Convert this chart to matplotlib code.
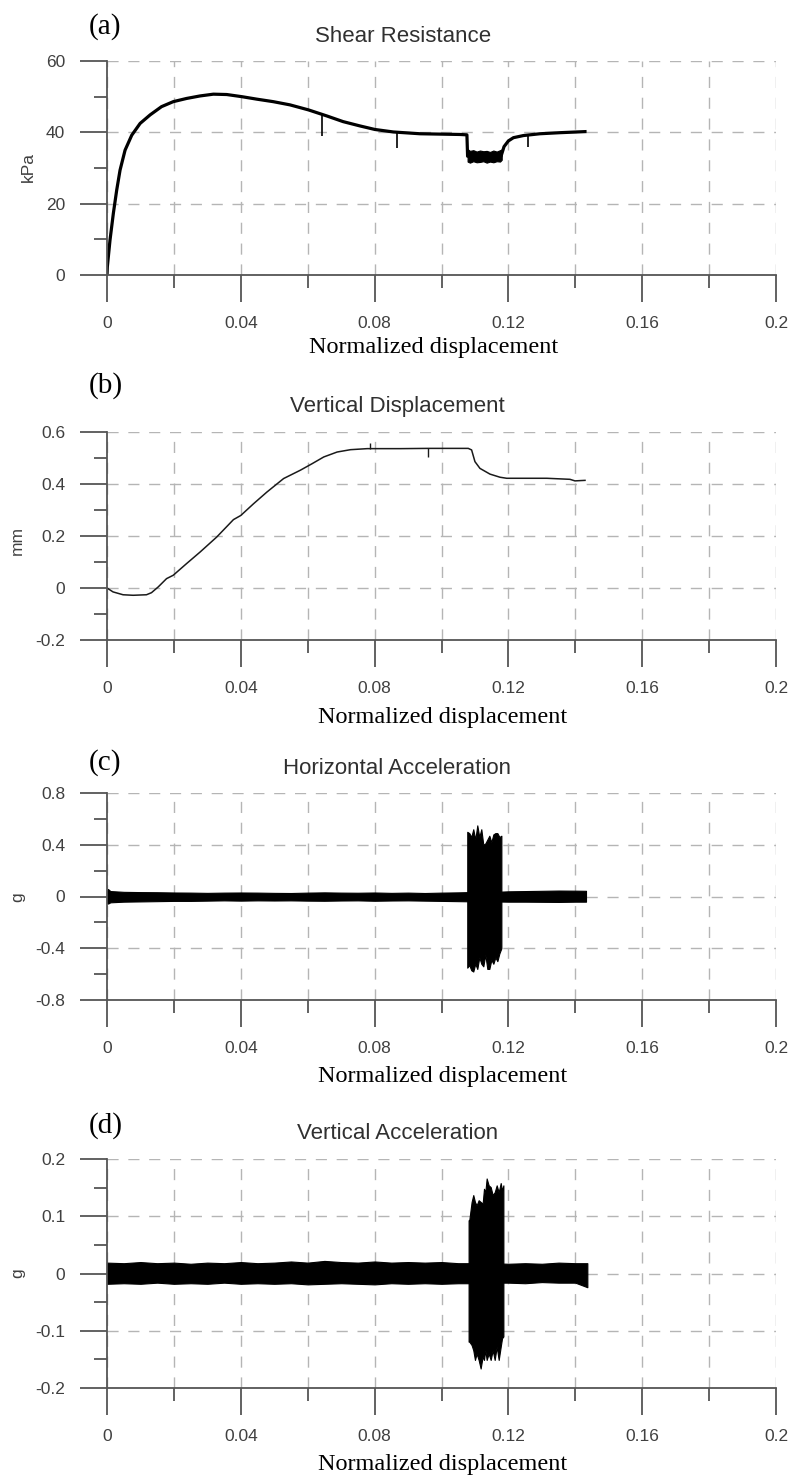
import matplotlib
matplotlib.use('Agg')
import matplotlib.pyplot as plt

plt.rcParams['axes.unicode_minus'] = False

# ---------------- data ----------------
x_major = [0, 0.04, 0.08, 0.12, 0.16, 0.2]
x_major_labels = ['0', '0.04', '0.08', '0.12', '0.16', '0.2']
x_minor = [0.02, 0.06, 0.10, 0.14, 0.18]

# (a) Shear resistance (kPa)
a_x = [0.0, 0.0001, 0.0009, 0.0019, 0.0029, 0.0039, 0.0054, 0.0074, 0.0099, 0.0129,
       0.0163, 0.0198, 0.0238, 0.0278, 0.0318, 0.0358, 0.0403, 0.0448, 0.0497, 0.0547,
       0.0602, 0.0657, 0.0706, 0.0756, 0.0801, 0.0856, 0.0936, 0.0996, 0.1055, 0.1076,
       0.1078, 0.1178, 0.1187, 0.1200, 0.1215, 0.1245, 0.1294, 0.1354, 0.1429]
a_y = [0.0, 2.3, 9.8, 17.3, 23.8, 29.4, 35.0, 39.2, 42.5, 44.9,
       47.2, 48.6, 49.5, 50.2, 50.7, 50.6, 50.0, 49.3, 48.6, 47.7,
       46.3, 44.6, 43.0, 41.8, 40.8, 40.1, 39.6, 39.5, 39.4, 39.3,
       33.3, 33.3, 36.0, 37.6, 38.5, 39.1, 39.6, 39.9, 40.2]
a_band_x = [0.1078, 0.1085, 0.1095, 0.1105, 0.1115, 0.1125, 0.1135, 0.1145, 0.1155, 0.1165, 0.1175, 0.1180]
a_band_hi = [35.3, 34.8, 35.0, 34.6, 34.9, 34.7, 34.8, 34.5, 34.9, 34.6, 35.0, 35.2]
a_band_lo = [31.8, 31.5, 31.9, 31.6, 31.7, 31.9, 31.5, 31.8, 31.6, 31.9, 31.8, 32.3]
a_spike_x = [0.0643, 0.0866, 0.1259]
a_spike_top = [45.0, 40.0, 39.2]
a_spike_bot = [39.0, 35.6, 36.0]

# (b) Vertical displacement (mm)
b_x = [0, 0.0018, 0.0048, 0.0078, 0.0118, 0.0133, 0.0153, 0.0178, 0.0198, 0.0238,
       0.0278, 0.0328, 0.0378, 0.040, 0.0438, 0.0478, 0.0528, 0.0578, 0.0613, 0.0648,
       0.0688, 0.0728, 0.0778, 0.0878, 0.0961, 0.108, 0.109, 0.110, 0.1115, 0.1145,
       0.1175, 0.1195, 0.1315, 0.1384, 0.1399, 0.1429]
b_y = [0, -0.015, -0.026, -0.028, -0.026, -0.018, 0.004, 0.036, 0.049, 0.094,
       0.138, 0.196, 0.263, 0.279, 0.324, 0.369, 0.421, 0.453, 0.478, 0.504,
       0.523, 0.532, 0.536, 0.536, 0.537, 0.537, 0.531, 0.486, 0.460, 0.438,
       0.426, 0.422, 0.422, 0.418, 0.412, 0.414]
b_spike_x = [0.0786, 0.0961]
b_spike_lo = [0.536, 0.503]
b_spike_hi = [0.556, 0.537]

# (c) Horizontal acceleration (g): envelope of the recorded signal
c_bg_x = [0, 0.0003, 0.001, 0.005, 0.01, 0.015, 0.02, 0.025, 0.03, 0.035, 0.04, 0.045,
          0.05, 0.055, 0.06, 0.065, 0.07, 0.075, 0.08, 0.085, 0.09, 0.095, 0.1, 0.105,
          0.11, 0.115, 0.12, 0.125, 0.13, 0.135, 0.14, 0.1432]
c_bg_hi = [0.045, 0.058, 0.042, 0.036, 0.034, 0.033, 0.031, 0.030, 0.028, 0.030, 0.031, 0.030,
           0.028, 0.027, 0.030, 0.032, 0.030, 0.029, 0.031, 0.028, 0.030, 0.027, 0.030, 0.032,
           0.035, 0.035, 0.040, 0.042, 0.044, 0.046, 0.045, 0.044]
c_bg_lo = [-0.050, -0.055, -0.045, -0.040, -0.038, -0.036, -0.034, -0.034, -0.032, -0.030, -0.032, -0.030,
           -0.031, -0.030, -0.032, -0.033, -0.031, -0.030, -0.033, -0.031, -0.030, -0.032, -0.034, -0.036,
           -0.038, -0.038, -0.040, -0.040, -0.041, -0.042, -0.040, -0.040]
c_burst_x = [0.1077, 0.1083, 0.1089, 0.1095, 0.1101, 0.1107, 0.1113, 0.1119, 0.1125, 0.1131,
             0.1137, 0.1143, 0.1149, 0.1155, 0.1161, 0.1167, 0.1173, 0.1179]
c_burst_hi = [0.50, 0.49, 0.46, 0.52, 0.44, 0.55, 0.46, 0.52, 0.40, 0.41,
              0.44, 0.47, 0.42, 0.48, 0.49, 0.49, 0.46, 0.47]
c_burst_lo = [-0.55, -0.53, -0.57, -0.58, -0.52, -0.56, -0.47, -0.52, -0.54, -0.45,
              -0.56, -0.56, -0.49, -0.52, -0.47, -0.50, -0.44, -0.40]

# (d) Vertical acceleration (g)
d_bg_x = [0, 0.005, 0.01, 0.015, 0.02, 0.025, 0.03, 0.035, 0.04, 0.045,
          0.05, 0.055, 0.06, 0.065, 0.07, 0.075, 0.08, 0.085, 0.09, 0.095,
          0.1, 0.105, 0.11, 0.115, 0.12, 0.125, 0.13, 0.135, 0.14, 0.1436]
d_bg_hi = [0.019, 0.018, 0.020, 0.018, 0.019, 0.017, 0.019, 0.018, 0.020, 0.018,
           0.019, 0.021, 0.019, 0.022, 0.020, 0.019, 0.021, 0.019, 0.020, 0.019,
           0.020, 0.018, 0.018, 0.018, 0.017, 0.018, 0.017, 0.019, 0.018, 0.018]
d_bg_lo = [-0.018, -0.017, -0.018, -0.016, -0.018, -0.017, -0.018, -0.016, -0.018, -0.017,
           -0.018, -0.017, -0.019, -0.018, -0.017, -0.018, -0.019, -0.017, -0.018, -0.017,
           -0.018, -0.017, -0.017, -0.016, -0.016, -0.017, -0.015, -0.016, -0.016, -0.024]
d_burst_x = [0.1081, 0.1083, 0.1090, 0.1095, 0.1100, 0.1105, 0.1111, 0.1117, 0.1123, 0.1127,
             0.1131, 0.1135, 0.1141, 0.1147, 0.1153, 0.1159, 0.1165, 0.1171, 0.1177, 0.1181, 0.1185]
d_burst_hi = [0.093, 0.093, 0.125, 0.137, 0.125, 0.119, 0.128, 0.125, 0.122, 0.148,
              0.142, 0.166, 0.154, 0.151, 0.137, 0.142, 0.154, 0.142, 0.158, 0.145, 0.154]
d_burst_lo = [-0.119, -0.119, -0.125, -0.134, -0.151, -0.140, -0.151, -0.166, -0.145, -0.151,
              -0.134, -0.151, -0.140, -0.151, -0.134, -0.151, -0.128, -0.151, -0.128, -0.113, -0.110]

titles = ['Shear Resistance', 'Vertical Displacement', 'Horizontal Acceleration', 'Vertical Acceleration']
panel_tags = ['(a)', '(b)', '(c)', '(d)']
ylabels = ['kPa', 'mm', 'g', 'g']
ylims = [(0, 60), (-0.2, 0.6), (-0.8, 0.8), (-0.2, 0.2)]
yticks = [[0, 20, 40, 60], [-0.2, 0, 0.2, 0.4, 0.6], [-0.8, -0.4, 0, 0.4, 0.8], [-0.2, -0.1, 0, 0.1, 0.2]]
yticklabels = [['0', '20', '40', '60'], ['-0.2', '0', '0.2', '0.4', '0.6'],
               ['-0.8', '-0.4', '0', '0.4', '0.8'], ['-0.2', '-0.1', '0', '0.1', '0.2']]
yminor = [[10, 30, 50], [-0.1, 0.1, 0.3, 0.5], [-0.6, -0.2, 0.2, 0.6], [-0.15, -0.05, 0.05, 0.15]]
xlabel = 'Normalized displacement'

# ---------------- layout (pixels) ----------------
W, H = 791, 1477
fig = plt.figure(figsize=(W / 100, H / 100), dpi=100)

def fxp(px):
    return px / W

def fyp(py):
    return 1 - py / H

ax_left, ax_right = 107, 776
ax_tb = [(61, 275), (432, 640), (793, 1000), (1159, 1388)]
title_pos = [(403, 41.7), (397, 411.7), (397, 774), (398, 1139.3)]
tag_pos = [(89, 33.2), (89, 393), (89, 770), (89, 1133)]
xlabel_pos = [(434, 353), (443, 723), (443, 1081.7), (443, 1470)]
ylabel_pos = [(28, 167), (17.5, 541), (18, 897), (18, 1273)]

SPINE = '#555555'
TXT = '#404040'
GRID = '#b5b5b5'
SANS = ['Liberation Sans', 'DejaVu Sans']
SERIF = ['Liberation Serif', 'DejaVu Serif']

axes = []
for i in range(4):
    top, bot = ax_tb[i]
    ax = fig.add_axes([fxp(ax_left), fyp(bot), fxp(ax_right) - fxp(ax_left), (bot - top) / H])
    axes.append(ax)
    ax.set_xlim(0, 0.2)
    ax.set_ylim(*ylims[i])
    for s in ['top', 'right']:
        ax.spines[s].set_visible(False)
    for s in ['left', 'bottom']:
        ax.spines[s].set_color(SPINE)
        ax.spines[s].set_linewidth(1.3)
    ax.set_xticks(x_major)
    ax.set_xticklabels(x_major_labels)
    ax.set_xticks(x_minor, minor=True)
    ax.set_yticks(yticks[i])
    ax.set_yticklabels(yticklabels[i])
    ax.set_yticks(yminor[i], minor=True)
    ax.tick_params(which='major', direction='out', length=19.5, width=1.3, color=SPINE,
                   labelsize=12.5, labelcolor=TXT)
    ax.tick_params(which='minor', direction='out', length=9.5, width=1.3, color=SPINE)
    ax.tick_params(axis='x', which='major', pad=10)
    ax.tick_params(axis='y', which='major', pad=10.5)
    for lab in ax.get_xticklabels() + ax.get_yticklabels():
        lab.set_fontfamily(SANS)
    ax.grid(axis='y', which='major', linestyle=(0, (8, 7)), color=GRID, linewidth=1.0)
    ax.grid(axis='x', which='both', linestyle=(0, (8, 7)), color=GRID, linewidth=1.0)
    ax.set_axisbelow(True)

    fig.text(fxp(title_pos[i][0]), fyp(title_pos[i][1]), titles[i], ha='center', va='baseline',
             fontsize=16, color='#303030', family=SANS)
    fig.text(fxp(tag_pos[i][0]), fyp(tag_pos[i][1]), panel_tags[i], ha='left', va='baseline',
             fontsize=21, color='black', family=SERIF)
    fig.text(fxp(xlabel_pos[i][0]), fyp(xlabel_pos[i][1]), xlabel, ha='center', va='baseline',
             fontsize=17.5, color='black', family=SERIF)
    fig.text(fxp(ylabel_pos[i][0]), fyp(ylabel_pos[i][1]), ylabels[i], ha='center', va='center',
             rotation=90, fontsize=12.5, color=TXT, family=SANS)

# ---------------- data drawing ----------------
ax = axes[0]
ax.plot(a_x, a_y, color='black', linewidth=2.3, solid_joinstyle='round')
ax.fill_between(a_band_x, a_band_lo, a_band_hi, color='black', linewidth=0.8)
ax.vlines(a_spike_x, a_spike_bot, a_spike_top, color='black', linewidth=1.2)

ax = axes[1]
ax.plot(b_x, b_y, color='#1a1a1a', linewidth=1.1)
ax.vlines(b_spike_x, b_spike_lo, b_spike_hi, color='#1a1a1a', linewidth=1.0)

ax = axes[2]
ax.fill_between(c_bg_x, c_bg_lo, c_bg_hi, color='black', linewidth=0.8)
ax.fill_between(c_burst_x, c_burst_lo, c_burst_hi, color='black', linewidth=0.8)

ax = axes[3]
ax.fill_between(d_bg_x, d_bg_lo, d_bg_hi, color='black', linewidth=0.8)
ax.fill_between(d_burst_x, d_burst_lo, d_burst_hi, color='black', linewidth=0.8)

fig.savefig('out.png', dpi=100, facecolor='white')
